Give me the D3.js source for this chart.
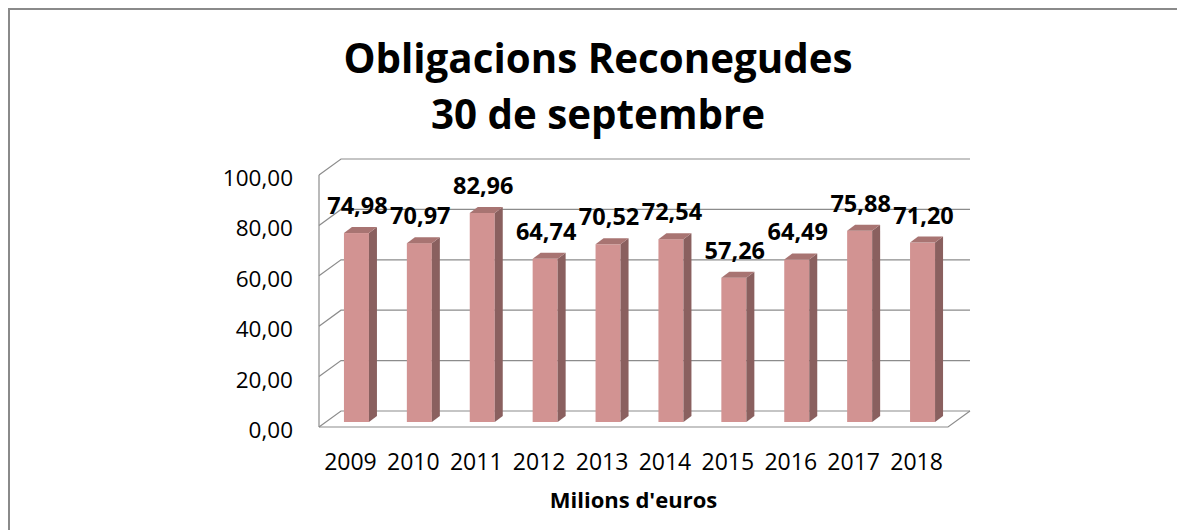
<!DOCTYPE html>
<html>
<head>
<meta charset="utf-8">
<script src="https://cdn.jsdelivr.net/npm/d3@7"></script>
<style>
    body { margin: 0; background: #fff; }
    svg { display: block; }
    text { font-family: "Open Sans", sans-serif; fill: #000; }
</style>
</head>
<body>
<svg id="chart" width="1177" height="530"></svg>
<script>
// Chart data
const years = ["2009", "2010", "2011", "2012", "2013", "2014", "2015", "2016", "2017", "2018"];
const values = [74.98, 70.97, 82.96, 64.74, 70.52, 72.54, 57.26, 64.49, 75.88, 71.20];
const yTicks = [0, 20, 40, 60, 80, 100];
const titleLines = ["Obligacions Reconegudes", "30 de septembre"];
const axisTitle = "Milions d'euros";

// Catalan style numbers: 74,98
const locale = d3.formatLocale({decimal: ",", thousands: ".", grouping: [3], currency: ["", " €"]});
const fmt = locale.format(".2f");

const svg = d3.select("#chart");

// outer frame (only top and left edges are visible in the picture)
svg.append("path")
    .attr("d", "M9,530 L9,9 L1177,9")
    .attr("fill", "none")
    .attr("stroke", "#8a8a8a")
    .attr("stroke-width", 2);

// front plane of the 3D box
const x = d3.scaleBand().domain(years).range([319, 948]);
const y = d3.scaleLinear().domain([0, 100]).range([427, 175]);

// depth offsets: walls and bars
const wallDx = 22, wallDy = -16;
const barDx = 8, barDy = -6;
const barW = 25;
const barShiftX = 6, barShiftY = -5; // bars sit in the middle of the floor depth

const grid = svg.append("g")
    .attr("fill", "none")
    .attr("stroke", "#8c8c8c")
    .attr("stroke-width", 1.2);

// left wall front edge
grid.append("line")
    .attr("x1", x.range()[0]).attr("y1", y(0))
    .attr("x2", x.range()[0]).attr("y2", y(100));

// gridlines: diagonal on the left wall and horizontal on the back wall
yTicks.forEach(t => {
    grid.append("polyline")
        .attr("points", [
            [x.range()[0], y(t)],
            [x.range()[0] + wallDx, y(t) + wallDy],
            [x.range()[1] + wallDx, y(t) + wallDy]
        ].join(" "));
});

// floor front and right edges
grid.append("polyline")
    .attr("points", [
        [x.range()[0], y(0)],
        [x.range()[1], y(0)],
        [x.range()[1] + wallDx, y(0) + wallDy]
    ].join(" "));

// y axis labels
svg.append("g")
    .selectAll("text")
    .data(yTicks)
    .join("text")
    .attr("x", 293)
    .attr("y", d => y(d) + 11)
    .attr("text-anchor", "end")
    .attr("font-size", 22.5)
    .text(d => fmt(d));

// bars
const bars = svg.append("g")
    .selectAll("g")
    .data(values)
    .join("g");

const left = (d, i) => x(years[i]) + x.bandwidth() / 2 + barShiftX - barW / 2;
const base = y(0) + barShiftY;

bars.each(function (d, i) {
    const g = d3.select(this);
    const x0 = left(d, i);
    const x1 = x0 + barW;
    const top = y(d) + barShiftY;

    // front face
    g.append("rect")
        .attr("x", x0)
        .attr("y", top)
        .attr("width", barW)
        .attr("height", base - top)
        .attr("fill", "#d29392");

    // side face
    g.append("polygon")
        .attr("points", [
            [x1, top], [x1 + barDx, top + barDy],
            [x1 + barDx, base + barDy], [x1, base]
        ].join(" "))
        .attr("fill", "#8a605f");

    // top face
    g.append("polygon")
        .attr("points", [
            [x0, top], [x0 + barDx, top + barDy],
            [x1 + barDx, top + barDy], [x1, top]
        ].join(" "))
        .attr("fill", "#a87472");

    // value label
    g.append("text")
        .attr("x", x0 + barW / 2 + 1)
        .attr("y", top + barDy - 13)
        .attr("text-anchor", "middle")
        .attr("font-size", 23.5)
        .attr("font-weight", "bold")
        .text(fmt(d));
});

// x axis labels
svg.append("g")
    .selectAll("text")
    .data(years)
    .join("text")
    .attr("x", d => x(d) + x.bandwidth() / 2)
    .attr("y", 470)
    .attr("text-anchor", "middle")
    .attr("font-size", 23)
    .text(d => d);

// axis title
svg.append("text")
    .attr("x", (x.range()[0] + x.range()[1]) / 2)
    .attr("y", 508)
    .attr("text-anchor", "middle")
    .attr("font-size", 22)
    .attr("font-weight", "bold")
    .text(axisTitle);

// chart title
svg.append("g")
    .selectAll("text")
    .data(titleLines)
    .join("text")
    .attr("x", 598)
    .attr("y", (d, i) => 73 + i * 56)
    .attr("text-anchor", "middle")
    .attr("font-size", 40.3)
    .attr("font-weight", "bold")
    .text(d => d);
</script>
</body>
</html>
